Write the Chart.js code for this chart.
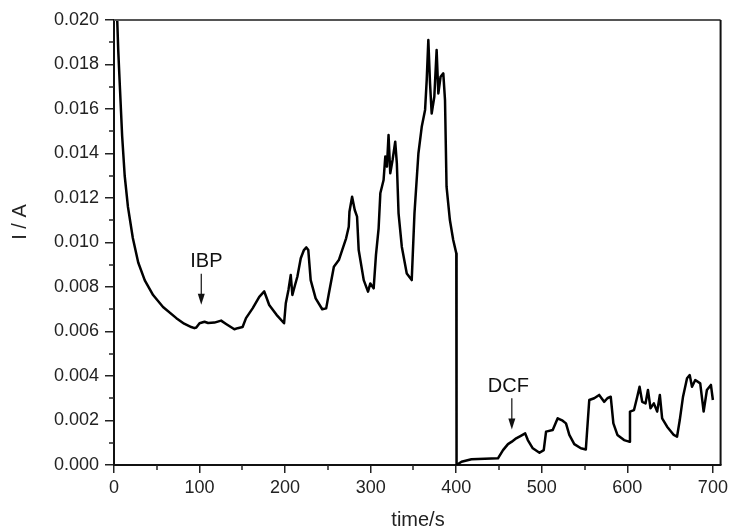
<!DOCTYPE html>
<html>
<head>
<meta charset="utf-8">
<script src="https://cdn.jsdelivr.net/npm/chart.js@4/dist/chart.umd.min.js"></script>
<style>
html,body{margin:0;padding:0;background:#fff;}
#wrap{width:732px;height:531px;position:relative;}
</style>
</head>
<body>
<div id="wrap"><canvas id="c"></canvas></div>
<script>
// time (s) and current (in 0.001 A)
const times=[2.2,3.5,5,7,9.5,12.5,16.3,22,28.3,36,45.7,57.3,72.9,82,90.3,94,96.2,100,105.8,110,117.4,125.2,131,140.7,144.5,150.3,154.3,162,169.8,175.6,178,181.4,190,198.8,200.8,203.9,206.6,208.5,211.6,214.3,218.3,222,224.8,227.1,229.9,235.7,243.4,248,251.2,257,262.8,266.7,271.3,274.4,275.2,278.3,281.4,284.1,286,291.9,296.9,299.6,303.5,306.2,309.3,311.3,315.1,317.1,319,320.9,322.9,325.6,328.7,330.6,332.6,336.4,342.2,348,351.2,355.8,359.7,363.6,365.5,367.4,369.4,371.3,374.4,377.1,379.1,381.7,384.9,386.9,388.7,392.6,396.5,400.1,400.4,406.2,417.8,448.8,454.7,460.5,465,470.1,475,480.6,483.7,489.5,497.3,502.3,505,512.8,518.6,524.4,528.3,532.2,538,545.7,551.5,555.5,561.3,567.1,572.9,576.7,580.6,583.7,588.4,596.2,602,603.1,607.8,611.6,614.3,617.4,621.3,624.1,627.1,631,634.9,638,640.7,646.5,654.3,658.1,661.3,665.1,669.8,672.9,675.6,679.4,685.2,689.2,693,697.7,700];
const current=[22,20.3,18.6,16.9,14.8,13.0,11.6,10.2,9.1,8.3,7.64,7.1,6.6,6.35,6.2,6.15,6.18,6.37,6.44,6.38,6.4,6.49,6.34,6.1,6.15,6.2,6.6,7.04,7.56,7.8,7.55,7.19,6.75,6.37,7.27,7.87,8.54,7.64,8.09,8.46,9.29,9.66,9.78,9.66,8.31,7.49,7.0,7.04,7.72,8.91,9.21,9.66,10.19,10.71,11.38,12.06,11.46,11.16,9.66,8.31,7.79,8.16,7.94,9.44,10.64,12.21,12.81,13.86,13.41,14.83,13.11,13.71,14.53,13.56,11.31,9.81,8.61,8.31,11.31,14.0,15.2,15.96,17.3,19.1,17.15,15.8,16.55,18.65,16.7,17.45,17.6,16.4,12.51,11.01,10.11,9.51,0,0.15,0.26,0.3,0.67,0.94,1.05,1.2,1.3,1.42,1.12,0.75,0.55,0.67,1.5,1.57,2.1,1.99,1.87,1.35,0.94,0.75,0.7,2.92,3.0,3.15,2.84,3.0,3.07,1.87,1.35,1.12,1.05,2.4,2.47,3.07,3.52,2.84,2.77,3.37,2.55,2.77,2.4,3.15,2.1,1.72,1.35,1.27,2.02,3.07,3.9,4.04,3.52,3.82,3.67,2.4,3.37,3.6,2.92];
const xTicks=[0,100,200,300,400,500,600,700];
const yTicks=[0,0.002,0.004,0.006,0.008,0.010,0.012,0.014,0.016,0.018,0.020];
const notes=[{text:'IBP',x:102,top:0.0086,tip:0.0072,tx:108},{text:'DCF',x:465,top:0.0030,tip:0.0016,tx:461}];

const pts=times.map((t,i)=>({x:t,y:current[i]/1000}));
const FONT='"Liberation Sans", Arial, sans-serif';

const decor={id:'decor',afterDraw(ch){
  const {ctx,chartArea:a}=ch;const xs=ch.scales.x,ys=ch.scales.y;
  ctx.save();
  // frame top/right
  ctx.strokeStyle='#555';ctx.lineWidth=2;
  ctx.beginPath();ctx.moveTo(a.left,a.top);ctx.lineTo(a.right,a.top);ctx.stroke();
  ctx.strokeStyle='#111';
  ctx.beginPath();ctx.moveTo(a.right,a.top);ctx.lineTo(a.right,a.bottom);ctx.stroke();
  // minor ticks
  ctx.lineWidth=1.5;ctx.strokeStyle='#222';
  for(let v=50;v<=700;v+=100){const px=Math.round(xs.getPixelForValue(v));ctx.beginPath();ctx.moveTo(px,a.bottom);ctx.lineTo(px,a.bottom+5);ctx.stroke();}
  for(let v=0.001;v<0.02;v+=0.002){const py=Math.round(ys.getPixelForValue(v));ctx.beginPath();ctx.moveTo(a.left,py);ctx.lineTo(a.left-5,py);ctx.stroke();}
  // annotations
  ctx.fillStyle='#111';ctx.strokeStyle='#111';ctx.lineWidth=1.2;
  ctx.font='20px '+FONT;ctx.textAlign='center';ctx.textBaseline='middle';
  for(const n of notes){
    const px=xs.getPixelForValue(n.x),y0=ys.getPixelForValue(n.top),y1=ys.getPixelForValue(n.tip);
    ctx.fillText(n.text,xs.getPixelForValue(n.tx),y0-12);
    ctx.beginPath();ctx.moveTo(px,y0);ctx.lineTo(px,y1-10);ctx.stroke();
    ctx.beginPath();ctx.moveTo(px-3.5,y1-11);ctx.lineTo(px+3.5,y1-11);ctx.lineTo(px,y1);ctx.closePath();ctx.fill();
  }
  // axis titles
  ctx.fillStyle='#222';
  ctx.fillText('time/s',418,520);
  ctx.translate(20,222);ctx.rotate(-Math.PI/2);ctx.fillText('I / A',0,0);
  ctx.restore();
}};

new Chart(document.getElementById('c'),{
  type:'line',
  data:{datasets:[{data:pts,borderColor:'#000',borderWidth:2.5,pointRadius:0,tension:0,fill:false,borderJoinStyle:'round'}]},
  options:{
    responsive:true,maintainAspectRatio:false,animation:false,
    layout:{padding:{left:0,top:20,right:8,bottom:0}},
    plugins:{legend:{display:false},tooltip:{enabled:false}},
    scales:{
      x:{type:'linear',min:0,max:709,
        afterBuildTicks:s=>{s.ticks=xTicks.map(v=>({value:v}));},
        afterFit:s=>{s.height=66;},
        ticks:{color:'#222',font:{family:FONT,size:18},padding:4,maxRotation:0,callback:v=>String(v)},
        grid:{drawOnChartArea:false,drawTicks:true,tickLength:8,tickColor:'#222',lineWidth:1.5},
        border:{display:true,color:'#111',width:2}},
      y:{type:'linear',min:0,max:0.02,
        afterBuildTicks:s=>{s.ticks=yTicks.map(v=>({value:v}));},
        afterFit:s=>{s.width=114;},
        ticks:{color:'#222',font:{family:FONT,size:18},padding:6,callback:v=>v.toFixed(3)},
        grid:{drawOnChartArea:false,drawTicks:true,tickLength:9,tickColor:'#222',lineWidth:1.5},
        border:{display:true,color:'#111',width:2}}
    }
  },
  plugins:[decor]
});
</script>
</body>
</html>
